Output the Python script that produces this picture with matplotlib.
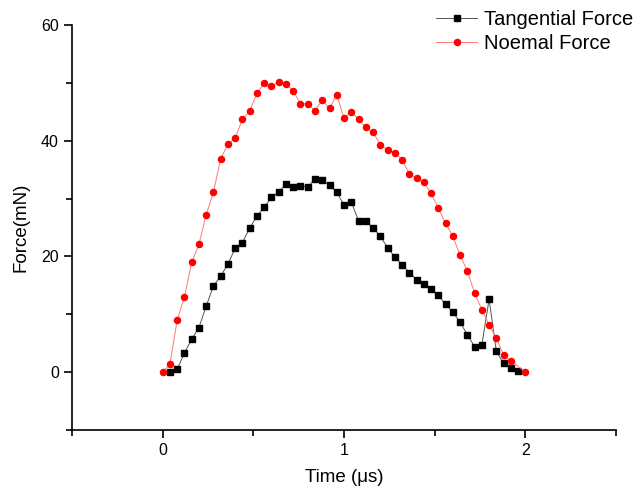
import numpy as np
import matplotlib
matplotlib.use("Agg")
import matplotlib.pyplot as plt
from matplotlib.ticker import MultipleLocator

plt.rcParams['font.family'] = ['Liberation Sans', 'DejaVu Sans']

# tangential force, 0.04 .. 1.96 us
t_tan = [0.04, 0.08, 0.12, 0.16, 0.20, 0.24, 0.28, 0.32, 0.36, 0.40,
         0.44, 0.48, 0.52, 0.56, 0.60, 0.64, 0.68, 0.72, 0.76, 0.80,
         0.84, 0.88, 0.92, 0.96, 1.00, 1.04, 1.08, 1.12, 1.16, 1.20,
         1.24, 1.28, 1.32, 1.36, 1.40, 1.44, 1.48, 1.52, 1.56, 1.60,
         1.64, 1.68, 1.72, 1.76, 1.80, 1.84, 1.88, 1.92, 1.96]
f_tan = [0.0, 0.5, 3.3, 5.7, 7.7, 11.4, 14.9, 16.6, 18.7, 21.4,
         22.4, 24.9, 27.0, 28.5, 30.2, 31.2, 32.5, 32.0, 32.2, 32.0,
         33.4, 33.2, 32.3, 31.1, 28.9, 29.4, 26.2, 26.2, 24.9, 23.5,
         21.5, 19.9, 18.6, 17.2, 16.0, 15.3, 14.3, 13.3, 11.7, 10.4,
         8.6, 6.5, 4.4, 4.7, 12.6, 3.6, 1.5, 0.7, 0.2]

# normal force, 0 .. 1.92 us and 2.0 us
t_nor = [0.00, 0.04, 0.08, 0.12, 0.16, 0.20, 0.24, 0.28, 0.32, 0.36,
         0.40, 0.44, 0.48, 0.52, 0.56, 0.60, 0.64, 0.68, 0.72, 0.76,
         0.80, 0.84, 0.88, 0.92, 0.96, 1.00, 1.04, 1.08, 1.12, 1.16,
         1.20, 1.24, 1.28, 1.32, 1.36, 1.40, 1.44, 1.48, 1.52, 1.56,
         1.60, 1.64, 1.68, 1.72, 1.76, 1.80, 1.84, 1.88, 1.92, 2.00]
f_nor = [0.0, 1.4, 9.0, 13.0, 19.0, 22.1, 27.2, 31.1, 36.9, 39.4,
         40.5, 43.7, 45.1, 48.3, 49.9, 49.4, 50.2, 49.8, 48.6, 46.4,
         46.4, 45.2, 47.0, 45.6, 47.9, 43.9, 45.0, 43.7, 42.3, 41.5,
         39.3, 38.4, 37.9, 36.7, 34.3, 33.5, 32.8, 30.9, 28.4, 25.7,
         23.5, 20.2, 17.5, 13.7, 10.8, 8.2, 5.9, 2.9, 2.0, 0.0]

fig = plt.figure(figsize=(6.36, 4.94), dpi=100)
ax = fig.add_axes([0.1132, 0.1296, 0.8554, 0.8198])

ax.plot(t_tan, f_tan, color='#555555', lw=0.7, marker='s', ms=4.2,
        mfc='black', mec='black', label='Tangential Force')
ax.plot(t_nor, f_nor, color='#ff7878', lw=0.7, marker='o', ms=4.4,
        mfc='red', mec='red', label='Noemal Force')

ax.set_xlim(-0.5, 2.5)
ax.set_ylim(-10, 60)
ax.xaxis.set_major_locator(MultipleLocator(1))
ax.xaxis.set_minor_locator(MultipleLocator(0.5))
ax.yaxis.set_major_locator(MultipleLocator(20))
ax.yaxis.set_minor_locator(MultipleLocator(10))
ax.tick_params(which='major', length=6, width=1.2, labelsize=11.5, direction='out')
ax.tick_params(which='minor', length=4, width=1.2, direction='out')
ax.spines['top'].set_visible(False)
ax.spines['right'].set_visible(False)
ax.spines['left'].set_linewidth(1.2)
ax.spines['bottom'].set_linewidth(1.2)

ax.set_xlabel('Time (\u03bcs)', fontsize=13.5, labelpad=8)
ax.set_ylabel('Force(mN)', fontsize=13.5, labelpad=8)

leg = ax.legend(loc='upper right', bbox_to_anchor=(1.046, 1.058), frameon=False,
                fontsize=14.5, handlelength=2.0, handletextpad=0.35,
                labelspacing=0.28, borderaxespad=0)

fig.savefig('out.png', dpi=100)
